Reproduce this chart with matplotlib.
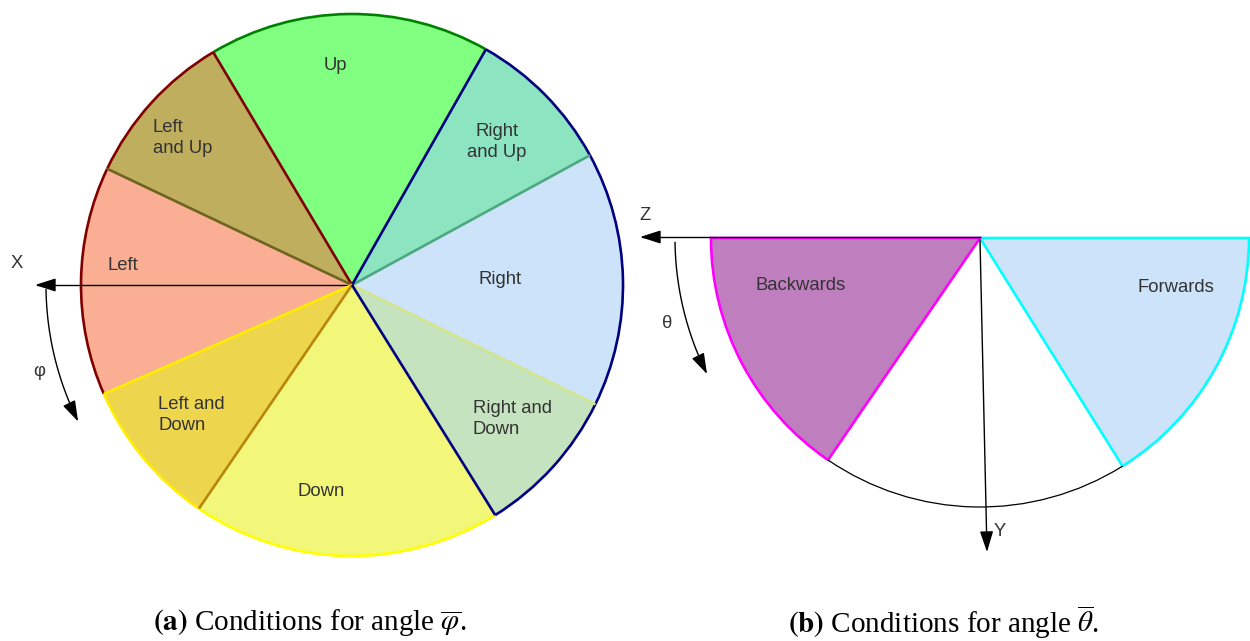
import numpy as np
import matplotlib.pyplot as plt
from matplotlib.patches import Wedge, Arc, FancyArrowPatch
from matplotlib.path import Path

plt.rcParams['mathtext.fontset'] = 'stix'

W, H = 1250, 641

# (a) sectors of angle phi, degrees counter-clockwise from +x
phi_labels = ['Right', 'Right\nand Up', 'Up', 'Left\nand Up', 'Left',
              'Left and\nDown', 'Down', 'Right and\nDown']
phi_start = [-26.1, 28.6, 60.4, 120.8, 154.6, 203.7, 235.6, 301.9]
phi_end = [28.6, 60.4, 120.8, 154.6, 203.7, 235.6, 301.9, 333.9]

# (b) sectors of angle theta
theta_labels = ['Forwards', 'Backwards']
theta_start = [-58.0, 180.0]
theta_end = [0.0, 235.6]

captions = [r'$\mathbf{(a)}$ Conditions for angle $\overline{\varphi}$.',
            r'$\mathbf{(b)}$ Conditions for angle $\overline{\theta}$.']

# styles
phi_face = ['#cce3fa', '#8ce5c0', '#80ff80', '#bfae5e', '#faae93',
            '#eed54e', '#f2f77a', '#c6e3c0']
phi_arc = ['#000080', '#000080', '#008000', '#800000', '#800000',
           '#ffee00', '#ffff00', '#000080']
phi_edge = ['#d4e58c', '#4ca880', '#000080', '#800000', '#6e6420',
            '#ffee00', '#b8860b', '#000080']  # line at sector start
theta_face = ['#cce3fa', '#bf7fbf']
theta_edge = ['#00ffff', '#ff00ff']

# layout in pixels (y measured from the top)
phi_c, phi_r = (352, 285), 271
theta_c, theta_r = (980, 238), 269
phi_text = [(500, 280, 'center'), (497, 142, 'center'), (335, 65, 'center'),
            (153, 138, 'left'), (123, 265, 'center'), (158, 415, 'left'),
            (321, 492, 'center'), (473, 419, 'left')]
theta_text = [(1176, 288), (801, 285)]


def py(y):
    return H - y


fig = plt.figure(figsize=(W / 100, H / 100), dpi=100)
ax = fig.add_axes([0, 0, 1, 1])
ax.set_xlim(0, W)
ax.set_ylim(0, H)
ax.set_axis_off()

lw = 1.9
tcol = '#333333'
tfont = dict(family='Liberation Sans', fontsize=13.3, color=tcol)

# ---- panel (a)
cx, cy = phi_c[0], py(phi_c[1])
for i in range(len(phi_labels)):
    t1, t2 = phi_start[i], phi_end[i]
    ax.add_patch(Wedge((cx, cy), phi_r, t1, t2, facecolor=phi_face[i], lw=0))
for i in range(len(phi_labels)):
    t1, t2 = phi_start[i], phi_end[i]
    ax.add_patch(Arc((cx, cy), 2 * phi_r, 2 * phi_r, theta1=t1, theta2=t2,
                     color=phi_arc[i], lw=lw))
    a = np.radians(t1)
    ax.plot([cx, cx + phi_r * np.cos(a)], [cy, cy + phi_r * np.sin(a)],
            color=phi_edge[i], lw=lw, solid_capstyle='butt')
for i, lab in enumerate(phi_labels):
    x, y, ha = phi_text[i]
    ax.text(x, py(y), lab, ha=ha, va='center', multialignment=ha,
            linespacing=1.3, **tfont)


def arrow(xs, ys):
    verts = list(zip(xs, ys))
    p = FancyArrowPatch(path=Path(verts), arrowstyle='-|>,head_length=0.75,head_width=0.24',
                        mutation_scale=17, color='black', lw=1.0,
                        shrinkA=0, shrinkB=0)
    ax.add_patch(p)


# X axis and phi arrow
arrow([cx, 35], [cy, cy])
a = np.radians(np.linspace(180.8, 206.5, 40))
arrow(cx + 306 * np.cos(a), cy + 306 * np.sin(a))
ax.text(17, py(263), 'X', ha='center', va='center', **tfont)
ax.text(39, py(372), 'φ', ha='center', va='center', **tfont)

# ---- panel (b)
cx, cy = theta_c[0], py(theta_c[1])
for i in range(len(theta_labels)):
    t1, t2 = theta_start[i], theta_end[i]
    ax.add_patch(Wedge((cx, cy), theta_r, t1, t2, facecolor=theta_face[i],
                       edgecolor=theta_edge[i], lw=lw, joinstyle='miter'))
    x, y = theta_text[i]
    ax.text(x, py(y), theta_labels[i], ha='center', va='center', **tfont)
ax.add_patch(Arc((cx, cy), 2 * theta_r, 2 * theta_r, theta1=theta_end[1],
                 theta2=360 + theta_start[0], color='black', lw=0.9))

arrow([cx, 640], [cy + 1, cy + 1])
arrow([cx, 987], [cy - 2, py(552)])
a = np.radians(np.linspace(180.8, 206.5, 40))
arrow(cx + 305 * np.cos(a), cy + 305 * np.sin(a))
ax.text(645, py(215), 'Z', ha='center', va='center', **tfont)
ax.text(667, py(323), 'θ', ha='center', va='center', **tfont)
ax.text(1000, py(532), 'Y', ha='center', va='center', **tfont)

# captions
ax.text(310, py(622), captions[0], ha='center', va='center',
        family='Liberation Serif', fontsize=21)
ax.text(943, py(622), captions[1], ha='center', va='center',
        family='Liberation Serif', fontsize=21)

fig.savefig('out.png', dpi=100)
